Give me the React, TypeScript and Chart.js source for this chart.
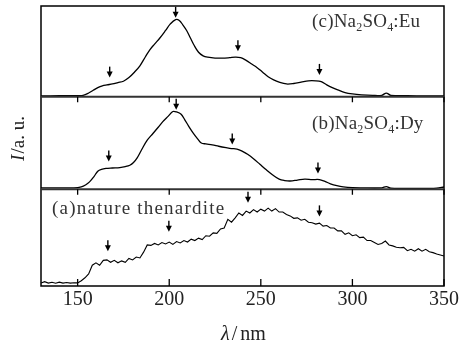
import { useEffect, useRef } from "react";
import { Chart, registerables } from "chart.js";

Chart.register(...registerables);

const X_MIN = 130;
const X_MAX = 350;
const X_TICKS = [150, 200, 250, 300, 350];

// (c) Na2SO4:Eu
const C_X = [130, 140, 150, 153, 156, 158.5, 161, 163.5, 166, 169, 172, 175, 178, 181, 184, 187, 189.5, 192, 195, 198, 200.5, 203.5, 205.5, 207.5, 209.5, 211.5, 213.5, 216, 218.5, 221, 225, 229, 233, 236, 239, 242, 245, 248, 251, 254, 257, 260, 264, 268, 272, 276, 280, 283, 286, 289, 292, 296, 300, 305, 311, 316, 318.5, 321, 330, 340, 350];
const C_Y = [0.008, 0.01, 0.012, 0.015, 0.04, 0.07, 0.1, 0.12, 0.13, 0.14, 0.155, 0.17, 0.21, 0.27, 0.34, 0.44, 0.52, 0.58, 0.65, 0.73, 0.8, 0.85, 0.84, 0.79, 0.73, 0.65, 0.57, 0.49, 0.45, 0.435, 0.425, 0.425, 0.43, 0.435, 0.43, 0.4, 0.36, 0.32, 0.27, 0.22, 0.185, 0.16, 0.14, 0.145, 0.16, 0.175, 0.175, 0.165, 0.13, 0.1, 0.075, 0.045, 0.03, 0.02, 0.014, 0.015, 0.04, 0.015, 0.01, 0.008, 0.008];

// (b) Na2SO4:Dy
const B_X = [130, 140, 148, 152, 154.5, 156.5, 159, 161, 163, 165.5, 169, 173, 176, 178.5, 180.5, 182.5, 185, 188, 191, 194, 196.5, 199.5, 202, 204, 206.5, 208.5, 210.5, 213, 215.5, 217.5, 220, 223.5, 227, 231, 234, 237, 240, 243, 246, 249.5, 253, 256.5, 260, 263, 266, 270, 274, 278, 282, 285, 288, 291.5, 295, 300, 305, 316, 318.5, 321, 330, 340, 346, 350];
const B_Y = [0.016, 0.016, 0.016, 0.027, 0.05, 0.08, 0.14, 0.195, 0.215, 0.225, 0.23, 0.235, 0.245, 0.26, 0.29, 0.34, 0.43, 0.53, 0.6, 0.67, 0.73, 0.79, 0.84, 0.835, 0.81, 0.75, 0.685, 0.61, 0.545, 0.5, 0.49, 0.48, 0.465, 0.45, 0.44, 0.435, 0.41, 0.375, 0.33, 0.27, 0.21, 0.155, 0.11, 0.095, 0.09, 0.1, 0.11, 0.105, 0.105, 0.085, 0.06, 0.04, 0.027, 0.018, 0.016, 0.016, 0.03, 0.012, 0.01, 0.01, 0.012, 0.025];

// (a) nature thenardite (2 nm steps from 130 to 350)
const A_X = [130, 132, 134, 136, 138, 140, 142, 144, 146, 148, 150, 152, 154, 156, 158, 160, 162, 164, 166, 168, 170, 172, 174, 176, 178, 180, 182, 184, 186, 188, 190, 192, 194, 196, 198, 200, 202, 204, 206, 208, 210, 212, 214, 216, 218, 220, 222, 224, 226, 228, 230, 232, 234, 236, 238, 240, 242, 244, 246, 248, 250, 252, 254, 256, 258, 260, 262, 264, 266, 268, 270, 272, 274, 276, 278, 280, 282, 284, 286, 288, 290, 292, 294, 296, 298, 300, 302, 304, 306, 308, 310, 312, 314, 316, 318, 320, 322, 324, 326, 328, 330, 332, 334, 336, 338, 340, 342, 344, 346, 348, 350];
const A_Y = [0.03, 0.045, 0.03, 0.038, 0.028, 0.04, 0.03, 0.036, 0.03, 0.034, 0.032, 0.055, 0.085, 0.125, 0.215, 0.24, 0.215, 0.265, 0.27, 0.245, 0.265, 0.24, 0.26, 0.245, 0.285, 0.27, 0.3, 0.29, 0.35, 0.425, 0.42, 0.44, 0.425, 0.45, 0.435, 0.455, 0.43, 0.46, 0.445, 0.47, 0.455, 0.485, 0.47, 0.495, 0.48, 0.52, 0.515, 0.55, 0.545, 0.59, 0.6, 0.69, 0.66, 0.705, 0.755, 0.73, 0.775, 0.755, 0.79, 0.765, 0.795, 0.775, 0.805, 0.775, 0.8, 0.765, 0.765, 0.74, 0.725, 0.7, 0.705, 0.68, 0.69, 0.66, 0.655, 0.64, 0.65, 0.62, 0.625, 0.6, 0.6, 0.57, 0.57, 0.535, 0.55, 0.52, 0.53, 0.5, 0.505, 0.47, 0.47, 0.45, 0.43, 0.44, 0.465, 0.425, 0.415, 0.4, 0.395, 0.4, 0.365, 0.38, 0.36, 0.385, 0.36, 0.38, 0.355, 0.345, 0.33, 0.32, 0.31];

// arrow markers: wavelength and tip height (panel units)
const C_ARROW_X = [167.5, 203.5, 237.5, 282];
const C_ARROW_Y = [0.21, 0.87, 0.5, 0.24];
const B_ARROW_X = [167, 203.8, 234.4, 281.2];
const B_ARROW_Y = [0.3, 0.86, 0.485, 0.17];
const A_ARROW_X = [166.5, 199.8, 243, 282];
const A_ARROW_Y = [0.36, 0.56, 0.86, 0.72];

const PANEL_LABELS = ["(a)nature thenardite", "(b)Na₂SO₄:Dy", "(c)Na₂SO₄:Eu"];

// panel layout: [base, height] on the shared y scale (bottom → top)
const PANEL_A = [0, 96.5];
const PANEL_B = [96.5, 92.5];
const PANEL_C = [189, 90.5];
const Y_MAX = 279.5;

const SERIF = '"Liberation Serif", "Times New Roman", serif';

function toPoints(xs: number[], ys: number[], panel: number[]) {
  return xs.map((x, i) => ({ x, y: panel[0] + ys[i] * panel[1] }));
}

function drawRichText(
  ctx: CanvasRenderingContext2D,
  text: string,
  x: number,
  y: number,
  size: number,
  spacing: number
) {
  let cx = x;
  for (const ch of text) {
    if (ch === "₂" || ch === "₄") {
      const d = ch === "₂" ? "2" : "4";
      ctx.font = `${Math.round(size * 0.62)}px ${SERIF}`;
      ctx.fillText(d, cx, y + size * 0.2);
      cx += ctx.measureText(d).width + spacing;
    } else {
      ctx.font = `${size}px ${SERIF}`;
      ctx.fillText(ch, cx, y);
      cx += ctx.measureText(ch).width + spacing;
    }
  }
}

const overlay = {
  id: "overlay",
  afterDraw(chart: any) {
    const ctx: CanvasRenderingContext2D = chart.ctx;
    const xs = chart.scales.x;
    const ys = chart.scales.y;
    const { left, right, top, bottom } = chart.chartArea;
    ctx.save();

    const yBA = ys.getPixelForValue(PANEL_B[0]);
    const yCB = ys.getPixelForValue(PANEL_C[0]);

    // frame
    ctx.strokeStyle = "#000";
    ctx.lineWidth = 1.5;
    ctx.strokeRect(left, top, right - left, bottom - top);

    // separators
    ctx.strokeStyle = "#333";
    ctx.lineWidth = 2;
    for (const yy of [yBA, yCB]) {
      ctx.beginPath();
      ctx.moveTo(left, yy);
      ctx.lineTo(right, yy);
      ctx.stroke();
    }

    // ticks
    ctx.strokeStyle = "#000";
    ctx.lineWidth = 1.3;
    for (const t of X_TICKS) {
      const px = xs.getPixelForValue(t);
      ctx.beginPath();
      ctx.moveTo(px, bottom);
      ctx.lineTo(px, bottom - 7);
      for (const yy of [yBA, yCB]) {
        ctx.moveTo(px, yy);
        ctx.lineTo(px, yy + 5.5);
      }
      ctx.stroke();
    }

    // arrows
    const arrowSets: [number[], number[], number[]][] = [
      [A_ARROW_X, A_ARROW_Y, PANEL_A],
      [B_ARROW_X, B_ARROW_Y, PANEL_B],
      [C_ARROW_X, C_ARROW_Y, PANEL_C],
    ];
    ctx.fillStyle = "#000";
    ctx.strokeStyle = "#000";
    for (const [ax, ay, p] of arrowSets) {
      ax.forEach((xv, i) => {
        const px = xs.getPixelForValue(xv);
        const py = ys.getPixelForValue(p[0] + ay[i] * p[1]);
        ctx.lineWidth = 1.4;
        ctx.beginPath();
        ctx.moveTo(px, py - 11);
        ctx.lineTo(px, py - 5);
        ctx.stroke();
        ctx.beginPath();
        ctx.moveTo(px - 3, py - 6);
        ctx.lineTo(px + 3, py - 6);
        ctx.lineTo(px, py);
        ctx.closePath();
        ctx.fill();
      });
    }

    // panel labels
    ctx.fillStyle = "#333";
    ctx.textBaseline = "alphabetic";
    ctx.textAlign = "left";
    drawRichText(ctx, PANEL_LABELS[2], 312, 27, 19, 0.2);
    drawRichText(ctx, PANEL_LABELS[1], 312, 129, 19, 0.2);
    drawRichText(ctx, PANEL_LABELS[0], 52, 214, 19, 1.2);

    // y axis title
    ctx.fillStyle = "#222";
    ctx.save();
    ctx.translate(24, 139);
    ctx.rotate(-Math.PI / 2);
    ctx.font = `italic 19px ${SERIF}`;
    const w1 = ctx.measureText("I").width;
    ctx.font = `19px ${SERIF}`;
    const w2 = ctx.measureText("/a. u.").width;
    const sx = -(w1 + w2) / 2;
    ctx.font = `italic 19px ${SERIF}`;
    ctx.fillText("I", sx, 0);
    ctx.font = `19px ${SERIF}`;
    ctx.fillText("/a. u.", sx + w1 + 1, 0);
    ctx.restore();

    // x axis title
    ctx.font = `italic 20px ${SERIF}`;
    const l1 = ctx.measureText("λ").width;
    ctx.font = `20px ${SERIF}`;
    const l2 = ctx.measureText("/nm").width;
    const cx = (left + right) / 2 + 1;
    const sx2 = cx - (l1 + l2 + 5) / 2;
    ctx.font = `italic 20px ${SERIF}`;
    ctx.fillText("λ", sx2, 340);
    ctx.font = `20px ${SERIF}`;
    ctx.fillText("/", sx2 + l1 + 2, 340);
    ctx.fillText("nm", sx2 + l1 + 5 + ctx.measureText("/").width, 340);

    ctx.restore();
  },
};

export default function App() {
  const ref = useRef<HTMLCanvasElement | null>(null);

  useEffect(() => {
    if (!ref.current) return;
    const lineStyle = {
      borderColor: "#000",
      borderWidth: 1.3,
      pointRadius: 0,
      fill: false,
    };
    const chart = new Chart(ref.current, {
      type: "line",
      data: {
        datasets: [
          { ...lineStyle, label: PANEL_LABELS[2], data: toPoints(C_X, C_Y, PANEL_C), tension: 0.35 },
          { ...lineStyle, label: PANEL_LABELS[1], data: toPoints(B_X, B_Y, PANEL_B), tension: 0.35 },
          { ...lineStyle, label: PANEL_LABELS[0], data: toPoints(A_X, A_Y, PANEL_A), tension: 0, borderWidth: 1.1 },
        ],
      },
      options: {
        animation: false,
        responsive: false,
        maintainAspectRatio: false,
        layout: { padding: { left: 41, right: 18, top: 6, bottom: 33 } },
        plugins: { legend: { display: false }, tooltip: { enabled: false } },
        scales: {
          x: {
            type: "linear",
            min: X_MIN,
            max: X_MAX,
            grid: { display: false, drawTicks: false },
            border: { display: false },
            afterBuildTicks: (s: any) => {
              s.ticks = X_TICKS.map((v) => ({ value: v }));
            },
            ticks: {
              padding: 2,
              maxRotation: 0,
              autoSkip: false,
              color: "#222",
              font: { family: SERIF, size: 20 },
            },
          },
          y: {
            type: "linear",
            display: false,
            min: 0,
            max: Y_MAX,
          },
        },
      },
      plugins: [overlay],
    });
    return () => chart.destroy();
  }, []);

  return (
    <div style={{ position: "fixed", left: 0, top: 0, width: 462, height: 347, background: "#fff" }}>
      <canvas ref={ref} width={462} height={347} style={{ width: 462, height: 347 }} />
    </div>
  );
}
